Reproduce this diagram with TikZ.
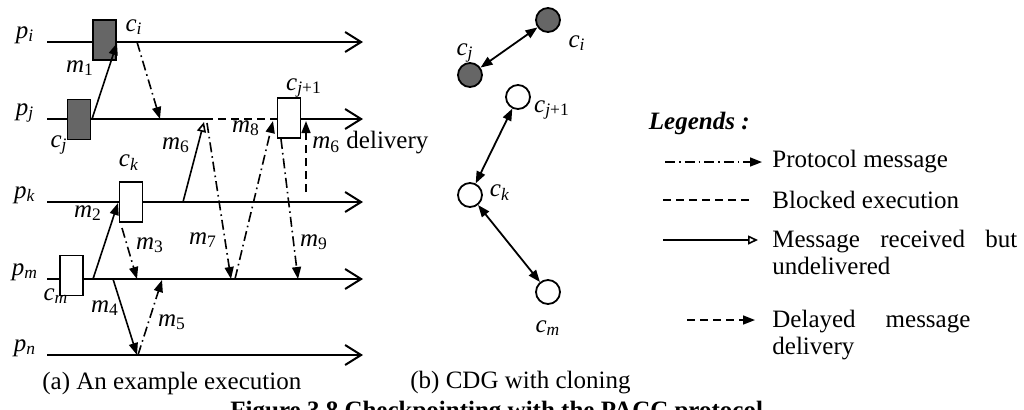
\documentclass[tikz,border=0pt]{standalone}
\usepackage{fontspec}
\setmainfont{Liberation Serif}
\usetikzlibrary{arrows.meta}
\newcommand{\ilabel}[2]{\textit{#1}\textsubscript{#2}}
\tikzstyle{process}=[line width=1pt, -{Straight Barb[length=8pt,width=10pt]}]
\tikzstyle{message}=[line width=0.8pt, -{Triangle[length=6pt,width=4.5pt]}]
\tikzstyle{protocol message}=[message, dash pattern=on 5pt off 2pt on 0.8pt off 2pt]
\tikzstyle{delayed message}=[message, dash pattern=on 4pt off 2.5pt]
\tikzstyle{undelivered message}=[line width=0.8pt, -{Triangle[open,length=5pt,width=4.5pt]}]
\tikzstyle{blocked}=[line width=1pt, dash pattern=on 4pt off 2.5pt]
\tikzstyle{checkpoint}=[draw, line width=0.9pt, fill=white, minimum width=11.5pt, minimum height=20pt, inner sep=0pt]
\tikzstyle{clone checkpoint}=[checkpoint, fill=black!60]
\tikzstyle{cdg vertex}=[draw, circle, line width=0.9pt, fill=white, minimum size=12pt, inner sep=0pt]
\tikzstyle{clone vertex}=[cdg vertex, fill=black!60]
\tikzstyle{cdg edge}=[line width=0.9pt, {Triangle[length=6pt,width=4.5pt]}-{Triangle[length=6pt,width=4.5pt]}]
\tikzstyle{legend text}=[anchor=north west, inner sep=0pt, align=justify]

\begin{document}
\begin{tikzpicture}[x=0.5pt, y=-0.5pt, font=\fontsize{12.5}{13.5}\selectfont]
  \useasboundingbox (0,0) rectangle (1024,409);

  % (a) process lines
  \foreach \p/\y in {i/42, k/202, m/279, n/355} {
    \node[anchor=base] (p\p) at (25,\y-4) {\ilabel{p}{\textit{\p}}};
    \coordinate (p\p-start) at (47,\y);
    \coordinate (p\p-end) at (363,\y);
    \draw[process] (p\p-start) -- (p\p-end);
  }
  \node[anchor=base] (pj) at (25,115) {\ilabel{p}{\textit{j}}};
  \coordinate (pj-start) at (47,119);
  \coordinate (block-start) at (205,119);
  \coordinate (block-end) at (277,119);
  \coordinate (pj-resume) at (301,119);
  \coordinate (pj-end) at (363,119);
  \draw[line width=1pt] (pj-start) -- (block-start);
  \draw[blocked] (block-start) -- (block-end);
  \draw[process] (pj-resume) -- (pj-end);

  % checkpoints
  \node[clone checkpoint] (ci) at (104.5,40) {};
  \node[clone checkpoint] (cj) at (79,119.5) {};
  \node[checkpoint] (cj1) at (289,118) {};
  \node[checkpoint] (ck) at (131,202) {};
  \node[checkpoint] (cm) at (71.5,275.5) {};
  \node (ci-label) at (134,27) {\ilabel{c}{\textit{i}}};
  \node (cj-label) at (59,145) {\ilabel{c}{\textit{j}}};
  \node (cj1-label) at (304,88) {\ilabel{c}{\textit{j}+1}};
  \node (ck-label) at (129,163) {\ilabel{c}{\textit{k}}};
  \node (cm-label) at (56,296) {\ilabel{c}{\textit{m}}};

  % messages
  \coordinate (m1-s) at (92,119);   \coordinate (m1-r) at (117,43);
  \coordinate (ci-s) at (137,42);   \coordinate (ci-r) at (160,119);
  \coordinate (m2-s) at (93,279);   \coordinate (m2-r) at (118,203);
  \coordinate (m3-s) at (122,228);  \coordinate (m3-r) at (137,279);
  \coordinate (m4-s) at (113,279);  \coordinate (m4-r) at (137,355);
  \coordinate (m5-s) at (138,355);  \coordinate (m5-r) at (162,280);
  \coordinate (m6-s) at (183,202);  \coordinate (m6-r) at (204,122);
  \coordinate (m7-s) at (207,123);  \coordinate (m7-r) at (231,279);
  \coordinate (m8-s) at (235,279);  \coordinate (m8-r) at (273,121);
  \coordinate (m9-s) at (281,139);  \coordinate (m9-r) at (298,279);
  \coordinate (dl-s) at (306,192);  \coordinate (dl-r) at (306,121);
  \draw[message] (m1-s) -- (m1-r);
  \draw[protocol message] (ci-s) -- (ci-r);
  \draw[message] (m2-s) -- (m2-r);
  \draw[protocol message] (m3-s) -- (m3-r);
  \draw[message] (m4-s) -- (m4-r);
  \draw[protocol message] (m5-s) -- (m5-r);
  \draw[undelivered message] (m6-s) -- (m6-r);
  \draw[protocol message] (m7-s) -- (m7-r);
  \draw[protocol message] (m8-s) -- (m8-r);
  \draw[protocol message] (m9-s) -- (m9-r);
  \draw[delayed message] (dl-s) -- (dl-r);
  \node (m1) at (80,68) {\ilabel{m}{1}};
  \node (m2) at (88,213) {\ilabel{m}{2}};
  \node (m3) at (150,245) {\ilabel{m}{3}};
  \node (m4) at (105,308) {\ilabel{m}{4}};
  \node (m5) at (172,322) {\ilabel{m}{5}};
  \node (m6) at (176,145) {\ilabel{m}{6}};
  \node (m7) at (203,240) {\ilabel{m}{7}};
  \node (m8) at (246,128) {\ilabel{m}{8}};
  \node (m9) at (314,242) {\ilabel{m}{9}};
  \node[anchor=west, inner sep=0pt] (m6-delivery) at (312,143) {\ilabel{m}{6} delivery};

  % (b) CDG with cloning
  \node[clone vertex] (vi) at (548,20) {};
  \node[clone vertex] (vj) at (470,75) {};
  \node[cdg vertex] (vj1) at (518,97) {};
  \node[cdg vertex] (vk) at (470,195) {};
  \node[cdg vertex] (vm) at (548,292) {};
  \draw[cdg edge] (vj) -- (vi);
  \draw[cdg edge] (vk) -- (vj1);
  \draw[cdg edge] (vk) -- (vm);
  \node (vi-label) at (577,43) {\ilabel{c}{\textit{i}}};
  \node (vj-label) at (465,53) {\ilabel{c}{\textit{j}}};
  \node (vj1-label) at (552,110) {\ilabel{c}{\textit{j}+1}};
  \node (vk-label) at (500,193) {\ilabel{c}{\textit{k}}};
  \node (vm-label) at (548,328) {\ilabel{c}{\textit{m}}};

  % legend
  \node[anchor=east, inner sep=0pt] (legends) at (750,123) {\textbf{\textit{Legends :}}};
  \coordinate (lg1-s) at (665,162); \coordinate (lg1-e) at (762,162);
  \coordinate (lg2-s) at (663,200); \coordinate (lg2-e) at (752,200);
  \coordinate (lg3-s) at (663,240); \coordinate (lg3-e) at (758,240);
  \coordinate (lg4-s) at (687,320); \coordinate (lg4-e) at (755,320);
  \draw[protocol message] (lg1-s) -- (lg1-e);
  \draw[blocked] (lg2-s) -- (lg2-e);
  \draw[undelivered message] (lg3-s) -- (lg3-e);
  \draw[delayed message] (lg4-s) -- (lg4-e);
  \node[anchor=west, inner sep=0pt] (lg1) at (772,162) {Protocol message};
  \node[anchor=west, inner sep=0pt] (lg2) at (772,200) {Blocked execution};
  \node[legend text, text width=122.5pt] (lg3) at (772,230)
    {\hyphenpenalty=10000 Message received but undelivered};
  \node[legend text, text width=99pt] (lg4) at (772,310)
    {\hyphenpenalty=10000 Delayed message delivery};

  % captions
  \node[anchor=west, inner sep=0pt] (cap-a) at (42,383) {(a) An example execution};
  \node[anchor=west, inner sep=0pt] (cap-b) at (410,383) {(b) CDG with cloning};
  \node[anchor=north west, inner sep=0pt] (fig-cap) at (230,401)
    {\textbf{Figure 3.8 Checkpointing with the PACC protocol}};
\end{tikzpicture}
\end{document}
